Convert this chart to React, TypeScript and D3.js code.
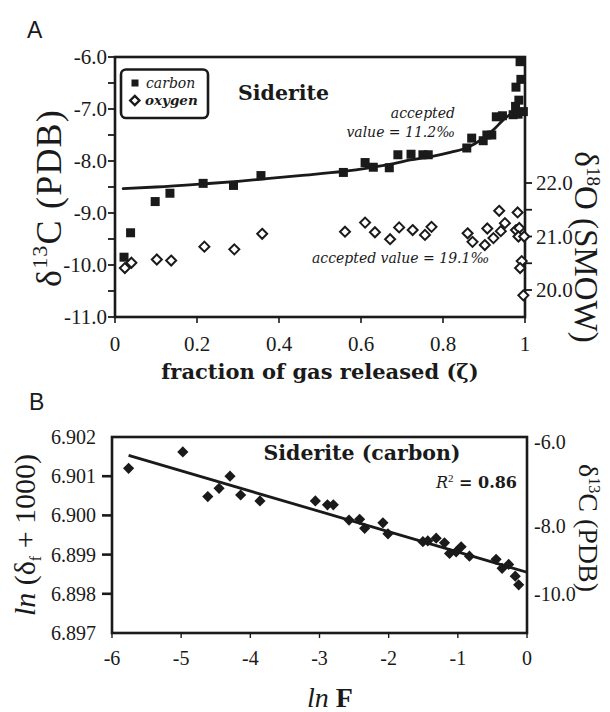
import React from 'react';
import * as d3 from 'd3';

// ---------- Panel A data ----------
const carbonZeta = [0.022, 0.038, 0.098, 0.134, 0.215, 0.289, 0.356, 0.557, 0.61, 0.63, 0.669, 0.69, 0.722, 0.751, 0.764, 0.858, 0.87, 0.898, 0.907, 0.919, 0.93, 0.945, 0.971, 0.996, 0.977, 0.985, 0.978, 0.99, 0.988, 0.983];
const carbonD13C = [-9.85, -9.38, -8.78, -8.62, -8.43, -8.47, -8.28, -8.22, -8.03, -8.12, -8.13, -7.88, -7.87, -7.88, -7.88, -7.75, -7.56, -7.61, -7.5, -7.5, -7.15, -7.13, -7.11, -7.05, -6.95, -6.83, -6.58, -6.43, -6.09, -7.1];

const oxygenZeta = [0.024, 0.04, 0.102, 0.137, 0.218, 0.291, 0.359, 0.561, 0.61, 0.634, 0.671, 0.693, 0.726, 0.756, 0.772, 0.86, 0.872, 0.902, 0.908, 0.923, 0.937, 0.941, 0.951, 0.982, 0.978, 0.986, 0.984, 0.998, 0.992, 0.988, 0.996];
const oxygenD18O = [20.41, 20.51, 20.57, 20.55, 20.81, 20.76, 21.05, 21.09, 21.26, 21.08, 20.95, 21.17, 21.12, 21.03, 21.18, 21.06, 20.9, 20.84, 21.15, 20.97, 21.48, 21.1, 21.25, 21.45, 21.12, 21.16, 21.0, 21.0, 20.54, 20.41, 19.9];

const curveZeta = [0.02, 0.1, 0.215, 0.3, 0.37, 0.45, 0.556, 0.62, 0.68, 0.72, 0.768, 0.82, 0.86, 0.9, 0.927, 0.947, 0.963, 0.975, 0.988];
const curveD13C = [-8.53, -8.5, -8.44, -8.39, -8.34, -8.28, -8.2, -8.13, -8.05, -7.98, -7.92, -7.83, -7.74, -7.55, -7.37, -7.21, -7.11, -7.08, -7.06];

const xTicksA = [0, 0.2, 0.4, 0.6, 0.8, 1];
const xTickLabelsA = ['0', '0.2', '0.4', '0.6', '0.8', '1'];
const yTicksA = [-6, -7, -8, -9, -10, -11];
const yTickLabelsA = ['-6.0', '-7.0', '-8.0', '-9.0', '-10.0', '-11.0'];
const yMinorA = [-6.5, -7.5, -8.5, -9.5, -10.5];
const o18Ticks = [20, 20.5, 21, 21.5, 22];
const o18Labeled = [20, 21, 22];
const o18Labels = ['20.0', '21.0', '22.0'];

// ---------- Panel B data ----------
const lnF = [-5.76, -4.976, -4.615, -4.452, -4.294, -4.14, -3.861, -3.06, -2.885, -2.8, -2.573, -2.42, -2.347, -2.083, -2.01, -1.505, -1.434, -1.313, -1.193, -1.12, -1.024, -0.952, -0.832, -0.447, -0.36, -0.265, -0.17, -0.12];
const lnDelta = [6.9012, 6.90162, 6.90048, 6.90069, 6.901, 6.90052, 6.90037, 6.90037, 6.90027, 6.90027, 6.89988, 6.8999, 6.89967, 6.89981, 6.89953, 6.89933, 6.89935, 6.89942, 6.8993, 6.89903, 6.89907, 6.8992, 6.89896, 6.89888, 6.89865, 6.89875, 6.89845, 6.89823];
const fitLnF = [-5.76, 0];
const fitLnDelta = [6.90153, 6.89855];

const xTicksB = [-6, -5, -4, -3, -2, -1, 0];
const yTicksB = [6.902, 6.901, 6.9, 6.899, 6.898, 6.897];
const yTickLabelsB = ['6.902', '6.901', '6.900', '6.899', '6.898', '6.897'];
const yTickMarksB = [6.901, 6.9, 6.899, 6.898];
const rightBPos = [6.90186, 6.89972, 6.898];
const rightBLabels = ['-6.0', '-8.0', '-10.0'];

const SERIF = "'DejaVu Serif', serif"; // bold / italic faces
const ROMAN = "'Liberation Serif', 'Times New Roman', serif"; // regular face
const SANS = "'Liberation Sans', Arial, sans-serif";
const INK = '#1a1a1a';

export default function App() {
  const xA = d3.scaleLinear().domain([0, 1]).range([115, 525]);
  const yA = d3.scaleLinear().domain([-11, -6]).range([317, 57]);
  const yO = d3.scaleLinear().domain([20, 22]).range([290, 183]);
  const xB = d3.scaleLinear().domain([-6, 0]).range([112, 527]);
  const yB = d3.scaleLinear().domain([6.897, 6.902]).range([633, 437]);

  const curveLine = d3.line<number>()
    .x((_, i) => xA(curveZeta[i]))
    .y((d) => yA(d))
    .curve(d3.curveMonotoneX);
  const fitLine = d3.line<number>()
    .x((_, i) => xB(fitLnF[i]))
    .y((d) => yB(d));

  const [ax0, ax1] = xA.range();
  const [ay1, ay0] = yA.range();
  const [bx0, bx1] = xB.range();
  const [by1, by0] = yB.range();

  const sq = 9;
  const dm = 5;
  const dmB = 5.6;
  const diamond = (cx: number, cy: number, r: number) =>
    `M${cx},${cy - r}L${cx + r},${cy}L${cx},${cy + r}L${cx - r},${cy}Z`;

  return (
    <svg width={610} height={712} style={{ position: 'absolute', left: 0, top: 0, background: '#fff' }}>
      <rect x={0} y={0} width={610} height={712} fill="#fff" />
      {/* ================= Panel A ================= */}
      <text x={27} y={38} fontFamily={SANS} fontSize={23} fill={INK}>A</text>

      <rect x={ax0} y={ay0} width={ax1 - ax0} height={ay1 - ay0} fill="none" stroke={INK} strokeWidth={2.6} />

      {yTicksA.concat(yMinorA).map((t) => (
        <line key={'lt' + t} x1={ax0 - 7} x2={ax0} y1={yA(t)} y2={yA(t)} stroke={INK} strokeWidth={1.8} />
      ))}
      {yTicksA.map((t, i) => (
        <text key={'ll' + t} x={ax0 - 8} y={yA(t)} dy="0.35em" textAnchor="end" fontFamily={ROMAN} fontSize={21} fill={INK}>
          {yTickLabelsA[i]}
        </text>
      ))}
      {xTicksA.map((t, i) => (
        <g key={'bx' + t}>
          <line x1={xA(t)} x2={xA(t)} y1={ay1} y2={ay1 + 6} stroke={INK} strokeWidth={1.6} />
          <text x={xA(t)} y={ay1 + 34} textAnchor="middle" fontFamily={ROMAN} fontSize={21} fill={INK}>
            {xTickLabelsA[i]}
          </text>
        </g>
      ))}
      {o18Ticks.map((t) => (
        <line key={'rt' + t} x1={ax1} x2={ax1 + 7} y1={yO(t)} y2={yO(t)} stroke={INK} strokeWidth={1.8} />
      ))}
      {o18Labeled.map((t, i) => (
        <text key={'rl' + t} x={ax1 + 11} y={yO(t)} dy="0.35em" textAnchor="start" fontFamily={ROMAN} fontSize={21} fill={INK}>
          {o18Labels[i]}
        </text>
      ))}

      <path d={curveLine(curveD13C) || ''} fill="none" stroke={INK} strokeWidth={2.8} strokeLinecap="round" />

      {oxygenZeta.map((z, i) => (
        <path key={'o' + i} d={diamond(xA(z), yO(oxygenD18O[i]), dm)} fill="#fff" stroke={INK} strokeWidth={2} />
      ))}
      {carbonZeta.map((z, i) => (
        <rect key={'c' + i} x={xA(z) - sq / 2} y={yA(carbonD13C[i]) - sq / 2} width={sq} height={sq} fill={INK} />
      ))}

      {/* legend */}
      <rect x={121} y={69.5} width={87} height={48.5} rx={5} fill="#fff" stroke={INK} strokeWidth={2.6} />
      <rect x={131.5} y={79.5} width={7} height={7} fill={INK} />
      <text x={146} y={87.5} fontFamily={SERIF} fontStyle="italic" fontSize={14} fill={INK}>carbon</text>
      <path d={diamond(134.8, 100.5, 4.6)} fill="#fff" stroke={INK} strokeWidth={2.4} />
      <text x={145} y={104.5} fontFamily={SERIF} fontStyle="italic" fontWeight="bold" fontSize={13.5} fill={INK}>oxygen</text>

      <text x={238} y={100} fontFamily={SERIF} fontWeight="bold" fontSize={20.5} fill={INK}>Siderite</text>
      <text x={455} y={118} textAnchor="end" fontFamily={SERIF} fontStyle="italic" fontSize={14} fill={INK}>accepted</text>
      <text x={455} y={137} textAnchor="end" fontFamily={SERIF} fontStyle="italic" fontSize={14} fill={INK}>value = 11.2‰</text>
      <text x={312} y={263} fontFamily={SERIF} fontStyle="italic" fontSize={14} fill={INK}>accepted value = 19.1‰</text>

      <text transform="translate(61,198) rotate(-90)" textAnchor="middle" fontFamily={ROMAN} fontSize={36} letterSpacing={1.2} fill={INK}>
        <tspan>δ</tspan>
        <tspan dy={-14} fontSize={22}>13</tspan>
        <tspan dy={14}>C (PDB)</tspan>
      </text>
      <text transform="translate(575,247) rotate(90)" textAnchor="middle" fontFamily={ROMAN} fontSize={33} fill={INK}>
        <tspan>δ</tspan>
        <tspan dy={-12} fontSize={19}>18</tspan>
        <tspan dy={12}>O (SMOW)</tspan>
      </text>
      <text x={320} y={379} textAnchor="middle" fontFamily={SERIF} fontWeight="bold" fontSize={21} fill={INK}>
        fraction of gas released (ζ)
      </text>

      {/* ================= Panel B ================= */}
      <text x={29} y={410} fontFamily={SANS} fontSize={23} fill={INK}>B</text>
      <rect x={bx0} y={by0} width={bx1 - bx0} height={by1 - by0} fill="none" stroke={INK} strokeWidth={2.6} />

      {yTickMarksB.map((t) => (
        <line key={'blt' + t} x1={bx0 - 10} x2={bx0} y1={yB(t)} y2={yB(t)} stroke={INK} strokeWidth={2.6} />
      ))}
      {yTicksB.map((t, i) => (
        <text key={'bll' + t} x={96} y={yB(t)} dy="0.35em" textAnchor="end" fontFamily={ROMAN} fontSize={20} fill={INK}>
          {yTickLabelsB[i]}
        </text>
      ))}
      {xTicksB.map((t) => (
        <g key={'bbx' + t}>
          <line x1={xB(t)} x2={xB(t)} y1={by1} y2={by1 + 5} stroke={INK} strokeWidth={1.4} />
          <text x={xB(t)} y={665} textAnchor="middle" fontFamily={ROMAN} fontSize={20} fill={INK}>
            {String(t)}
          </text>
        </g>
      ))}
      {rightBPos.map((t, i) => (
        <text key={'brl' + t} x={bx1 + 7} y={yB(t)} dy="0.35em" textAnchor="start" fontFamily={ROMAN} fontSize={20} fill={INK}>
          {rightBLabels[i]}
        </text>
      ))}

      <path d={fitLine(fitLnDelta) || ''} fill="none" stroke={INK} strokeWidth={2.8} />
      {lnF.map((f, i) => (
        <path key={'b' + i} d={diamond(xB(f), yB(lnDelta[i]), dmB)} fill={INK} />
      ))}

      <text x={362} y={460} textAnchor="middle" fontFamily={SERIF} fontWeight="bold" fontSize={20.5} fill={INK}>
        Siderite (carbon)
      </text>
      <text x={517} y={488} textAnchor="end" fontFamily={SERIF} fontSize={16} fill={INK}>
        <tspan fontStyle="italic">R</tspan>
        <tspan dy={-6} fontSize={11} fontFamily={ROMAN}>2</tspan>
        <tspan dy={6} fontWeight="bold"> = 0.86</tspan>
      </text>

      <text transform="translate(35,535) rotate(-90)" textAnchor="middle" fontFamily={ROMAN} fontSize={30} fill={INK}>
        <tspan fontStyle="italic">ln</tspan>
        <tspan> (δ</tspan>
        <tspan dy={6} fontSize={16}>f</tspan>
        <tspan dy={-6}> + 1000)</tspan>
      </text>
      <text transform="translate(579,528) rotate(90)" textAnchor="middle" fontFamily={ROMAN} fontSize={28} fill={INK}>
        <tspan>δ</tspan>
        <tspan dy={-10} fontSize={16}>13</tspan>
        <tspan dy={10}>C (PDB)</tspan>
      </text>
      <text x={330} y={707} textAnchor="middle" fontFamily={ROMAN} fontSize={28} fill={INK}>
        <tspan fontStyle="italic">ln</tspan>
        <tspan fontWeight="bold"> F</tspan>
      </text>
    </svg>
  );
}
